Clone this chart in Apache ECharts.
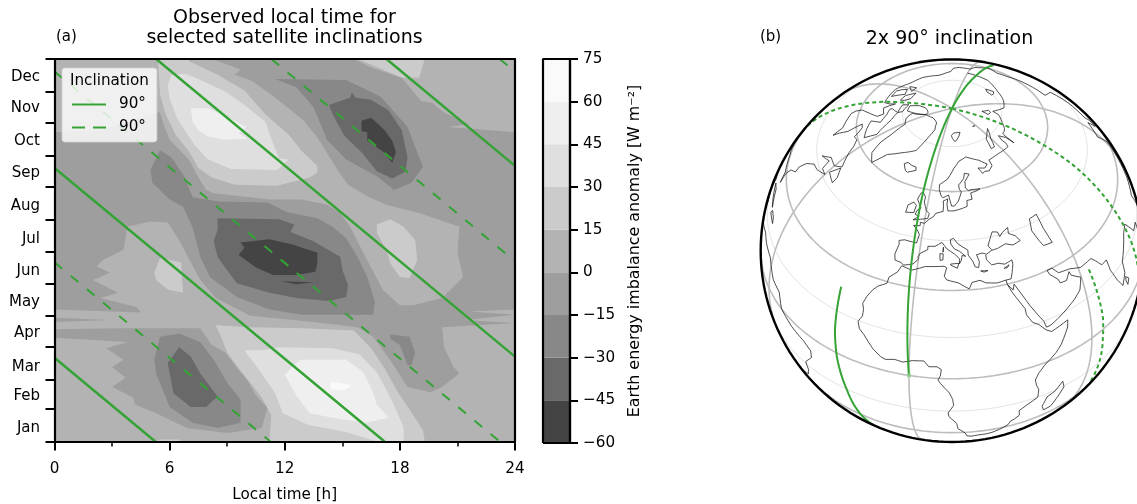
<!DOCTYPE html>
<html><head><meta charset="utf-8">
<script src="https://cdn.jsdelivr.net/npm/echarts@6/dist/echarts.min.js"></script>
<style>html,body{margin:0;padding:0;background:#fff}#c{width:1137px;height:504px}</style>
</head><body><div id="c"></div>
<script>
// ---------- panel (a): value bands ----------
const levels = [-60,-45,-30,-15,0,15,30,45,60,75];
const bandGreys = ['#444444','#696969','#888888','#9e9e9e','#b3b3b3','#cbcbcb','#dfdfdf','#efefef','#fafafa'];
const monthNames = ['Jan','Feb','Mar','Apr','May','Jun','Jul','Aug','Sep','Oct','Nov','Dec'];
const monthStarts = [0,31,59,90,120,151,181,212,243,273,304,334,365];
const monthLabelDays = [12.4,43,70.7,103,133,163,193,224.5,256,286.6,318,348];

// contour outlines as [local hour, day of year]
const ringAll = [[0,0],[24,0],[24,365],[0,365]];
const ringNeg15Main = [[0,295],[2.4,297],[5.3,314],[5.5,314],[5.7,302],[6,288],[7,269],[7.5,252],[7.9,240],[8.3,237],[10.2,233],[11.2,231],[12.9,231],[14.2,226],[14.9,218],[15.4,205],[16.3,173],[17.1,145],[18,130],[18.7,130],[20.2,137],[21.3,157],[21,180],[21.1,205],[19,218],[17.3,226],[16.4,233],[15.3,245],[14.8,258],[13.7,290],[13,306],[12.2,318],[11.3,331],[10.3,344],[9.4,350],[9.7,355],[8.2,365],[15.6,365],[16.5,357],[18.1,347],[19.1,325],[19.7,323],[20.3,314],[21.6,303],[20.5,300],[22.7,297],[24,295],[24,126],[21.6,124],[24,121],[21.4,116],[24,113],[21.1,110],[20.2,109],[20.3,90],[20.8,71],[21.1,65],[20.2,52],[19.6,47],[18.4,52],[17.6,75],[16.6,100],[15.8,109],[13.5,114],[10.2,120],[8.4,137],[7.6,154],[7.1,171],[6.5,192],[5.9,209],[5,210],[3.8,205],[3.6,183],[2.5,173],[2.2,167],[2.9,161],[2,154],[3.3,142],[2.4,137],[4.3,128],[4.5,123],[0,126]];
const ringNeg15Lower = [[0,107],[3.4,108],[7.6,108],[8.2,92],[8.9,85],[9.4,73],[10.1,57],[10.5,44],[11.1,32],[10.8,13],[9,8],[6.9,13],[5.3,27],[4.2,35],[4.1,42],[3,52],[3.7,61],[3,71],[3.6,78],[2.7,89],[3.8,95],[0,99]];
const ringNeg15Streak = [[0,118],[2.9,116],[0,114]];
const ringNeg30Center = [[5.5,278],[6.1,271],[6.8,252],[7.2,233],[8.6,229],[11.1,228],[12.1,219],[13.7,213],[14.5,205],[15.2,194],[15.8,176],[16.3,157],[16.7,133],[16.6,121],[12.9,121],[11.2,126],[9.5,138],[8.1,157],[7.6,176],[7.2,204],[6.7,224],[6,231],[5.1,247],[5,259]];
const ringNeg30Upper = [[11.5,346],[15.2,345],[17,329],[18.4,300],[19.2,262],[18.6,247],[17.7,240],[16.8,253],[15.2,269],[14.2,288],[13.5,319],[12.6,338]];
const ringNeg30Lower = [[5.5,100],[6.5,103],[7.6,95],[8.3,78],[9,56],[9.7,40],[9.7,18],[8.5,13],[7.2,18],[6,33],[5.3,65],[5.2,78]];
const ringNeg30Right = [[17.5,102],[18.5,100],[18.8,85],[18.6,73],[18.4,73],[18,92],[17.5,98]];
const ringNeg45Center = [[8.5,213],[11.7,212],[12.5,207],[12.3,200],[13.5,191],[14.9,176],[15,164],[15.3,149],[15.2,138],[14.3,134],[12.6,137],[11.2,142],[9.5,151],[8.5,176],[8.3,191],[8.5,202]];
const ringNeg45Upper = [[14.3,321],[15.4,328],[15.5,333],[15.7,328],[16.5,326],[17.4,316],[18.1,297],[18.4,271],[18.3,258],[17.6,251],[16.8,258],[16,276],[15.1,292],[14.5,312]];
const ringNeg45Lower = [[6.5,90],[7.1,81],[7.6,65],[8.5,43],[7.9,33],[7.1,33],[6.2,46],[5.9,75]];
const ringNeg60Center = [[9.7,190],[11.2,193],[12.4,188],[13.7,180],[13.7,171],[13.6,162],[12.6,159],[11.4,159],[10.5,166],[9.6,178],[9.9,185]];
const ringNeg60Sliver = [[11.8,153],[13.5,152],[12.6,150]];
const ringNeg60Upper = [[16,306],[16.5,309],[16.8,304],[17.2,297],[17.6,287],[17.8,276],[17.6,266],[17.1,277],[16.3,287],[16.3,295],[16,296]];
const ringPos15Upper = [[5.4,365],[5.5,331],[5.8,312],[6.3,293],[7,277],[7.5,261],[8.2,252],[9.4,245],[11.6,244],[13.3,252],[13.7,257],[13.7,263],[12.9,277],[12.2,293],[11,312],[9.9,335],[8.5,350],[7,363],[7,365]];
const ringPos15Lower = [[8.4,111],[10.1,109],[13,108],[15.6,106],[16.5,89],[17.2,70],[17.9,47],[18.6,28],[19.2,11],[19.3,0],[11.2,0],[11.3,25],[10.8,42],[10.2,56],[9.6,70],[9,85],[8.7,99]];
const ringPos15Right = [[16.8,207],[17.5,212],[18.2,205],[18.8,192],[18.9,173],[18.5,156],[18,157],[17.5,170],[17.3,183],[16.8,199]];
const ringPos15Left = [[5.2,161],[5.5,175],[6.6,171],[6.7,142],[5.9,145],[5.3,154]];
const ringPos15Top = [[15.8,365],[18.1,347],[19,347],[19.3,365]];
const ringPos15Bottom = [[5.3,0],[5.5,2],[6.5,2],[6.6,0]];
const ringPos30Upper = [[5.9,340],[6,327],[6.4,308],[7.3,283],[8,269],[9.2,260],[11.6,259],[12.2,269],[11.7,270],[11.3,289],[11,305],[9.9,321],[8.9,334],[7.5,346],[6.8,351],[6.1,350]];
const ringPos30Lower = [[9.9,87],[10.8,87],[11.7,90],[14.5,89],[15.9,83],[16.8,66],[17.5,42],[18,22],[18.2,13],[18.2,0],[16.8,0],[15.2,9],[13.2,16],[11.9,27],[11.5,46],[10.8,65]];
const ringPos45Upper = [[7.1,318],[8,318],[9,310],[10,300],[9.6,294],[10.1,289],[8.9,288],[8,291],[7.5,297],[7.2,305]];
const ringPos45Lower = [[12,64],[12.8,78],[15.2,78],[16.1,66],[16.6,47],[16.8,35],[17.4,23],[16.3,18],[14.7,22],[13.3,27],[12.6,44]];
const ringPos60Lower = [[14.4,57],[15.5,54],[15.1,49],[14.4,50]];
const contourLayers = [
 [4,ringAll],
 [3,ringNeg15Main],[3,ringNeg15Lower],[3,ringNeg15Streak],
 [2,ringNeg30Center],[2,ringNeg30Upper],[2,ringNeg30Lower],[2,ringNeg30Right],
 [1,ringNeg45Center],[1,ringNeg45Upper],[1,ringNeg45Lower],
 [0,ringNeg60Center],[0,ringNeg60Sliver],[0,ringNeg60Upper],
 [5,ringPos15Upper],[5,ringPos15Lower],[5,ringPos15Right],[5,ringPos15Left],[5,ringPos15Top],[5,ringPos15Bottom],
 [6,ringPos30Upper],[6,ringPos30Lower],
 [7,ringPos45Upper],[7,ringPos45Lower],
 [8,ringPos60Lower]
];
// satellite passes, [hour, day]; null breaks the line
const passSolid = [[0,80],[5.25,0],null,[0,261],[17.2,0],null,[5.3,365],[24,81],null,[17.3,365],[24,263]];
const passDashed = [[0,171],[11.25,0],null,[0,353],[23.2,0],null,[11.3,365],[24,172],null,[23.2,365],[24,353]];

// ---------- panel (b): map data as [lon, lat] ----------
const centerLon = 13, centerLat = 42;
const trackSolidA = [[172,52.6],[172,70],[173,80],[174,89.9],null,[-6,89.9],[-5,75],[-4,59],[-2.7,41],[-1.3,20],[0,0]];
const trackSolidB = [[-26,23],[-25.2,8.2],[-24,-1.7],[-21.7,-15.5],[-19.5,-40]];
const trackDashedA = [[-105,28],[-102,45],[-98,67.2],[-95,80],[-94,89.9],null,[85,89.9],[86,74.8],[87,60.5],[88,49.6],[88.5,30],[89,21],[90,6.7],[91,0]];
const trackDashedB = [[64,23],[65.3,4.7],[65.2,-3.3],[66.3,-23],[67,-27]];
const trackStartDot = [[0,0]];
const coastAfrica = [[-5.9,35.8],[-1.9,35.1],[3,36.8],[10,37.3],[11,36.9],[10.2,34.3],[11.1,33.2],[15.2,32.3],[19,30.3],[20.1,32.2],[23,32.6],[25,31.6],[29,31],[32.3,31.3],[32.5,29.9],[33.8,27],[35.5,24],[37.2,21],[37.3,19],[39,15.9],[41,14.5],[43.2,11.8],[45,10.5],[48,11.2],[51.2,11.9],[50.8,9.5],[48,4.5],[46,2.2],[42,-1],[40,-3.5],[39,-6],[39.5,-8.5],[40.5,-11],[40.7,-15],[37,-17.8],[34.9,-19.8],[35.5,-23],[35.4,-24],[32.8,-26],[32.5,-28.5],[30,-31.3],[27.5,-33.3],[25.7,-34],[22.5,-34.1],[20,-34.8],[18.4,-34],[18.3,-32],[17,-29.5],[15,-26.5],[14.5,-22.5],[12,-18],[11.8,-16],[13.5,-12],[13.2,-9],[12.2,-6],[9.5,-2],[8.8,-0.7],[9.5,1],[9.8,3.5],[8.5,4.5],[6,4.3],[4.5,6.3],[1,5.9],[-2,4.8],[-4.5,5.2],[-7.5,4.4],[-9,5],[-11.5,6.9],[-13.3,9],[-15,11],[-16.7,12.4],[-17.5,14.7],[-16.3,17],[-16.3,19.2],[-17,21],[-16,23.7],[-14.5,26.2],[-13,27.8],[-10,29.5],[-9.7,31.5],[-7,33.7],[-5.9,35.8]];
const coastEurasia = [[32.3,31.3],[34.2,31.3],[35,33],[36,35.5],[36,36.8],[33,36.1],[30.6,36.8],[28,36.7],[26.3,38.5],[26.3,40],[29,41],[31.5,41.2],[35,42],[38,41],[41.5,41.6],[40,43.5],[37.5,44.7],[38,46.5],[35,45.5],[33.5,44.5],[33,46],[30.7,46.4],[29.7,45.2],[28.6,43.7],[27.8,42.5],[29,41.2],null,[26.3,40.3],[26.3,40.8],[23.8,40.5],[22.7,40.4],[23.5,38.2],[23,36.5],[21.7,36.8],[21,38.5],[19.4,40.5],[19.4,42],[15.5,44],[13.6,45.7],[12.3,45.3],[12.5,44],[14,42.5],[16,41.8],[18.4,40.2],[17,40.5],[16.6,39],[15.8,38],[16,39.5],[14,41],[11,42.5],[8.8,44.4],[6,43.1],[3.1,42.9],[3.2,41.9],[0.5,40.6],[-0.3,39.4],[0,38.7],[-1.8,37],[-5.3,36.1],[-6.3,36.7],[-8.9,37],[-9.5,38.7],[-8.8,41.9],[-9.2,43],[-7,43.6],[-1.8,43.4],[-1.2,46],[-2.5,47.3],[-4.6,48.4],[-1.6,48.7],[-1.8,49.7],[0.2,49.6],[2,51],[4,52],[4.8,53],[8.5,53.8],[8.5,55.5],[8.2,57],[10.6,57.7],[10.3,56],[10.9,54],[14,54],[18.5,54.7],[21,55.2],[21.2,57],[24.2,57.2],[24,59.2],[28,59.6],[30,60],[25,60.2],[22.9,60],[21.3,61],[21.5,63],[25.3,65.2],[22,65.7],[21,64],[17.2,62],[17.5,60.6],[18.6,59.8],[16.5,57],[14.3,55.5],[12.8,55.5],[11,58.9],[8,58],[5.5,59],[5,62],[10,64],[14.5,67.5],[19,69.8],[25.8,71],[31,70],[36,69],[41,67],[38,66],[33,66.6],[35,64.5],[37,65],[40,64.7],[44,66],[44,68],[53,68.5],[60,68.5],[68,68.5],[67,71],[69,73],[72.5,71],[73,68],[73.5,71.5],[75,72.5],[80,72.5],[87,74],[100,76],[104,77.7],[113,74],[127,73],[140,72.5],[150,71.5],[160,70],[170,69.5],[178,69],[180,68.9]];
const coastArabiaIndia = [[32.5,29.9],[34.2,27.8],[34.9,29.5],[37,25.5],[39,21.5],[41,18],[42.8,15],[43.4,12.7],[45,12.8],[48,14],[52,15.8],[55,17.2],[58,19],[59.8,22.5],[56.4,24.9],[56,26.3],[54,24.2],[51.5,24.5],[51,26],[48.5,28.5],[48,30],[50,30],[52,27.7],[56.5,27],[61,25.3],[66.5,25.4],[68,23.7],[70,21],[72.8,21],[73,17],[75,12],[77.5,8],[80,11],[80.2,15],[83,17.5],[87,21],[90,22],[94,16],[98,16],[98,9],[103,2],[104,1.5],[103,6],[100,13],[105,10],[109,13],[106,20],[113,22],[120,28],[122,31],[118,38],[125,40],[127,35],[129,37],[128,40],[135,44],[140,50],[135,55],[150,59],[156,61],[163,62],[170,60],[178,62.5],[180,65]];
const coastAmericas = [[-180,65],[-172,64.5],[-168,65.5],[-166,68.5],[-156,71],[-141,69.7],[-128,70],[-115,68],[-108,68],[-95,68],[-94,72],[-90,68.5],[-82,69],[-81,67],[-87,64],[-94,60],[-92,57],[-82,55],[-80,51.5],[-79,54],[-77,57],[-78,62],[-73,62],[-70,59],[-65,60],[-61,56],[-56,52],[-60,50],[-66,50],[-71,47],[-65,49],[-64,46],[-60,46],[-66,44],[-70,43.5],[-74,40.5],[-76,37],[-75.5,35],[-81,31.5],[-80,26],[-82,29],[-90,29.5],[-97,28],[-97,22],[-91,18.5],[-90,21],[-87,21],[-88,16],[-83,15],[-83,10],[-79.5,9.5],[-75,11],[-72,12],[-68,11],[-62,10.5],[-57,6],[-52,5],[-50,0],[-44,-2.5],[-38,-4],[-35,-6],[-35,-9],[-39,-14],[-39,-18],[-41,-22],[-48,-26],[-50,-30],[-54,-34],[-58,-38],[-65,-42],[-68,-50],[-68,-55]];
const coastIslands = [
 [[-44,60],[-50,62],[-53,66],[-54,70],[-58,75],[-68,76],[-73,78],[-62,82],[-40,83.5],[-25,82.5],[-18,80],[-20,75],[-22,71],[-32,68],[-40,65],[-44,60]],
 [[-24,65.5],[-22,66.4],[-18,66],[-14.5,66],[-13.5,65],[-18.5,63.5],[-22.5,64],[-24,65.5]],
 [[-5.5,50],[1.3,51.2],[1.7,52.7],[0,53.5],[-2,56],[-2,57.6],[-3.5,58.6],[-5,58.6],[-6,56.5],[-3,54],[-4.5,53.2],[-5.2,51.8],[-3,51.4],[-5.5,50]],
 [[-6,52.2],[-10,51.7],[-10,54],[-7.5,55.3],[-5.7,54.5],[-6,52.2]],
 [[12,79],[16,80],[27,80],[22,78],[17,76.7],[12,78.5],[12,79]],
 [[54,80.5],[57,81],[58,80.3],[54,80.5]],
 [[52,71],[55,74.5],[62,76],[68.5,77],[60,74],[56,71],[52,71]],
 [[95,79],[100,81],[105,79],[99,78],[95,79]],
 [[137,75.5],[145,75.8],[150,75],[140,73.5],[137,75.5]],
 [[49.3,-12],[50.4,-15.5],[47.5,-24.8],[45,-25.5],[43.5,-22],[44.3,-17],[47,-15.5],[49.3,-12]],
 [[12.5,38],[15.6,38.2],[15,36.7],[12.5,37.7],[12.5,38]],
 [[9.5,41],[9.5,39.2],[8.4,39],[8.2,41],[9.5,41]],
 [[9.5,43],[9.4,41.5],[8.7,42],[9.5,43]],
 [[23.6,35.4],[26.3,35.2],[24.8,34.9],[23.6,35.4]],
 [[32.4,34.9],[34.5,35.6],[33.7,34.9],[32.4,34.9]],
 [[49,46.5],[53,46.8],[53,42],[54,37],[50,37.4],[49,39.5],[47.7,43],[49,46.5]],
 [[80,9.5],[81.8,7.5],[80.6,6],[79.8,8],[80,9.5]],
 [[-62,66],[-65,62],[-72,63.5],[-78,65],[-73,68],[-80,70],[-89,71],[-80,73.5],[-70,71],[-62,66]],
 [[-80,76.5],[-62,82],[-70,83],[-90,81.5],[-90,77],[-80,76.5]],
 [[-105,69],[-115,69],[-118,72],[-110,73],[-105,69]],
 [[-123,71.5],[-125,74],[-117,74],[-123,71.5]],
 [[-80,73.5],[-92,74.5],[-92,76.5],[-80,75],[-80,73.5]],
 [[-100,73],[-108,73.5],[-116,76],[-100,76],[-100,73]],
 [[-59,47.7],[-53,46.8],[-53,49],[-56,51.5],[-59,47.7]],
 [[-75,20],[-84,22],[-80,23],[-74.5,20],[-75,20]],
 [[-74,18.5],[-68.5,18.5],[-70,19.8],[-73,20],[-74,18.5]]
];
const latMajor = [-30,0,30,60], latMinor = [-45,-15,15,45,75], lonMajor = [-180,-120,-60,0,60,120];

// ---------- orthographic helpers ----------
const rad = Math.PI/180, sin0 = Math.sin(centerLat*rad), cos0 = Math.cos(centerLat*rad);
function project(p){
  const dl=(p[0]-centerLon)*rad, f=p[1]*rad;
  const vis = sin0*Math.sin(f)+cos0*Math.cos(f)*Math.cos(dl);
  if(vis<0) return null;
  return [Math.cos(f)*Math.sin(dl), cos0*Math.sin(f)-sin0*Math.cos(f)*Math.cos(dl)];
}
function toPath(lines){
  const out=[];
  lines.forEach(line=>{
    for(let i=0;i<line.length;i++){
      const a=line[i], b=line[i+1];
      if(!a){out.push(null);continue;}
      if(!b){out.push(project(a));continue;}
      const n=Math.max(1,Math.ceil(Math.max(Math.abs(b[0]-a[0]),Math.abs(b[1]-a[1]))/2));
      for(let k=0;k<n;k++) out.push(project([a[0]+(b[0]-a[0])*k/n,a[1]+(b[1]-a[1])*k/n]));
    }
    out.push(null);
  });
  return out;
}
const circleLat=l=>{const r=[];for(let x=-180;x<=180;x+=3)r.push([x,l]);return r;};
const meridian=l=>{const r=[];for(let y=-90;y<=90;y+=3)r.push([l,y]);return r;};
const limb=[];for(let a=0;a<=360;a+=2)limb.push([Math.sin(a*rad),Math.cos(a*rad)]);

const font='"DejaVu Sans"';
const blackLine={lineStyle:{color:'#000',width:2.2}};
const green='#35a335';
const geoLine=(name,data,color,width,z,type)=>({name,type:'line',xAxisIndex:3,yAxisIndex:3,data,showSymbol:false,symbol:'none',silent:true,z,clip:false,animation:false,connectNulls:false,lineStyle:{color,width,type:type||'solid'}});

const option={
 animation:false,backgroundColor:'#fff',textStyle:{fontFamily:font},
 title:[
  {text:'Observed local time for\nselected satellite inclinations',left:279.5,top:3,textAlign:'center',textStyle:{fontFamily:font,fontSize:19,fontWeight:'normal',color:'#000',lineHeight:20}},
  {text:'(a)',left:51,top:25,textStyle:{fontFamily:font,fontSize:15,fontWeight:'normal',color:'#000'}},
  {text:'(b)',left:755,top:25,textStyle:{fontFamily:font,fontSize:15,fontWeight:'normal',color:'#000'}},
  {text:'2x 90° inclination',left:944.5,top:25,textAlign:'center',textStyle:{fontFamily:font,fontSize:19,fontWeight:'normal',color:'#000'}},
  {text:'Inclination',left:65,top:69,z:20,textStyle:{fontFamily:font,fontSize:15.2,fontWeight:'normal',color:'#000'}}
 ],
 legend:{left:62,top:68,orient:'vertical',z:10,
  data:[{name:'90°',icon:'path://M0 0H34V2H0Z'},{name:'90°\u200b',icon:'path://M0 0H13V2H0ZM21 0H34V2H21Z'}],
  itemWidth:34,itemHeight:2.2,itemGap:8,
  padding:[29,11,7,10],backgroundColor:'rgba(255,255,255,0.8)',borderColor:'rgba(210,210,210,0.8)',borderWidth:1,borderRadius:3,
  textStyle:{fontFamily:font,fontSize:15.2,color:'#000',padding:[0,0,0,8]},selectedMode:false},
 grid:[
  {left:54.5,top:59,width:460.5,height:382.5,outerBoundsMode:'none'},
  {left:543,top:59,width:27,height:384,outerBoundsMode:'none'},
  {left:760.7,top:59.4,width:382.6,height:382.6,outerBoundsMode:'none'}
 ],
 xAxis:[
  {type:'value',gridIndex:0,min:0,max:24,interval:6,z:12,splitLine:{show:false},axisLine:{onZero:false,...blackLine},
   axisTick:{length:9,lineStyle:{width:2,color:'#000'}},minorTick:{show:true,splitNumber:2,length:5,lineStyle:{width:1.5,color:'#000'}},
   axisLabel:{fontFamily:font,fontSize:15.2,color:'#000',margin:20,showMaxLabel:true,showMinLabel:true},
   name:'Local time [h]',nameLocation:'middle',nameGap:46,nameTextStyle:{fontFamily:font,fontSize:15.2,color:'#000'}},
  {type:'value',gridIndex:0,position:'top',min:0,max:24,z:12,axisLine:{onZero:false,...blackLine},axisTick:{show:false},axisLabel:{show:false},splitLine:{show:false}},
  {type:'value',gridIndex:1,min:0,max:1,show:false},
  {type:'value',gridIndex:2,min:-1,max:1,show:false}
 ],
 yAxis:[
  {type:'value',gridIndex:0,min:0,max:365,z:12,splitLine:{show:false},axisLine:{onZero:false,...blackLine},
   axisTick:{customValues:monthStarts,length:9,lineStyle:{width:2,color:'#000'}},
   axisLabel:{customValues:monthLabelDays,fontFamily:font,fontSize:15,color:'#000',margin:14.5,
     formatter:v=>monthNames[monthLabelDays.indexOf(v)]||''}},
  {type:'value',gridIndex:0,position:'right',min:0,max:365,z:12,axisLine:{onZero:false,...blackLine},axisTick:{show:false},axisLabel:{show:false},splitLine:{show:false}},
  {type:'value',gridIndex:1,position:'right',min:-60,max:75,interval:15,z:12,splitLine:{show:false},axisLine:{show:true,onZero:false,...blackLine},
   axisTick:{length:8,lineStyle:{width:2,color:'#000'}},
   axisLabel:{fontFamily:font,fontSize:15.2,color:'#000',margin:13,showMinLabel:true,showMaxLabel:true,formatter:v=>String(v).replace('-','\u2212')},
   name:'Earth energy imbalance anomaly [W m⁻²]',nameLocation:'middle',nameRotate:90,nameGap:57,nameTextStyle:{fontFamily:font,fontSize:15.9,color:'#000'}},
  {type:'value',gridIndex:2,min:-1,max:1,show:false}
 ],
 series:[
  {type:'custom',xAxisIndex:0,yAxisIndex:0,z:2,silent:true,clip:true,data:contourLayers.map((l,i)=>[i]),
   renderItem:(params,api)=>{
     const l=contourLayers[api.value(0)];
     return {type:'polygon',shape:{points:l[1].map(p=>api.coord(p))},style:{fill:bandGreys[l[0]],stroke:null}};
   }},
  {name:'90°',type:'line',xAxisIndex:0,yAxisIndex:0,z:4,data:passSolid,showSymbol:false,symbol:'none',clip:true,silent:true,connectNulls:false,itemStyle:{color:green},lineStyle:{color:green,width:2.5}},
  {name:'90°\u200b',type:'line',xAxisIndex:0,yAxisIndex:0,z:4,data:passDashed,showSymbol:false,symbol:'none',clip:true,silent:true,connectNulls:false,itemStyle:{color:green},lineStyle:{color:green,width:2,type:[10,11]}},
  {type:'custom',xAxisIndex:2,yAxisIndex:2,z:2,silent:true,data:bandGreys.map((c,i)=>[0,levels[i],levels[i+1],i]),
   renderItem:(params,api)=>{
     const a=api.coord([0,api.value(1)]), b=api.coord([1,api.value(2)]);
     return {type:'rect',shape:{x:a[0],y:b[1],width:b[0]-a[0],height:a[1]-b[1]},style:{fill:bandGreys[api.value(3)]}};
   }},
  {type:'line',xAxisIndex:2,yAxisIndex:2,z:12,data:[[0,-60],[1,-60],[1,75],[0,75],[0,-60]],showSymbol:false,symbol:'none',silent:true,clip:false,lineStyle:{color:'#000',width:2.2}},
  geoLine('latMinor',toPath(latMinor.map(circleLat)),'#e4e4e4',1,2),
  geoLine('latMajor',toPath(latMajor.map(circleLat)),'#bdbdbd',1.6,3),
  geoLine('lonMajor',toPath(lonMajor.map(meridian)),'#bdbdbd',1.6,3),
  geoLine('coast',toPath([coastAfrica,coastEurasia,coastArabiaIndia,coastAmericas,...coastIslands]),'#222',0.8,5),
  geoLine('trackA',toPath([trackSolidA,trackSolidB]),green,2,6),
  geoLine('trackB',toPath([trackDashedA,trackDashedB]),green,2,6,[4,3]),
  {type:'scatter',xAxisIndex:3,yAxisIndex:3,z:6,silent:true,symbol:'rect',symbolSize:4,data:trackStartDot.map(project),itemStyle:{color:'#8fce8f'}},
  geoLine('limb',limb,'#000',2.4,7)
 ]
};
echarts.init(document.getElementById('c'),null,{renderer:'canvas'}).setOption(option);
</script></body></html>
